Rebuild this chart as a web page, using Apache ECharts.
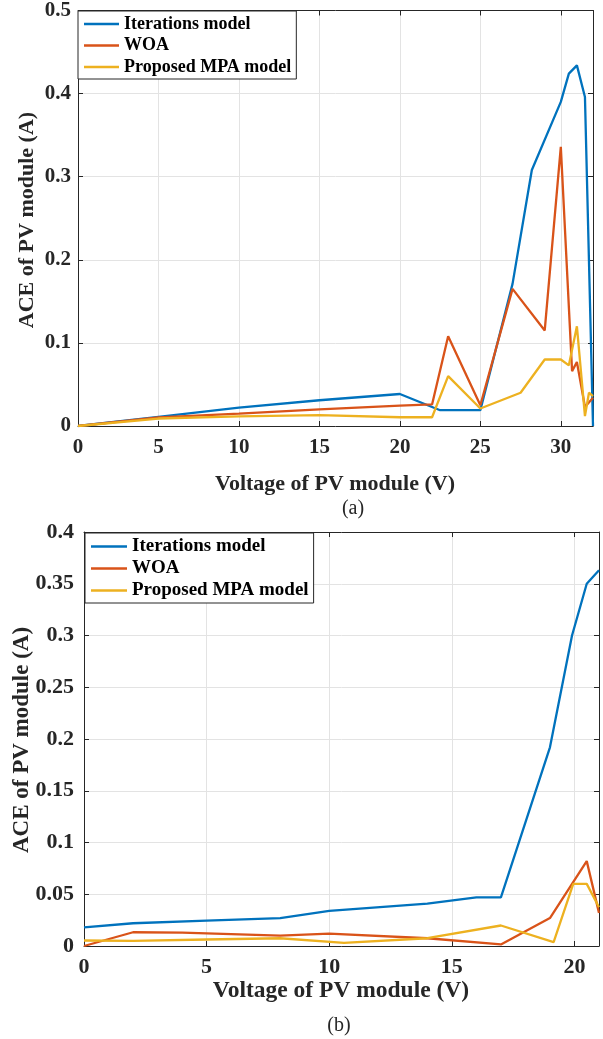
<!DOCTYPE html>
<html>
<head>
<meta charset="utf-8">
<script src="https://cdn.jsdelivr.net/npm/echarts@6/dist/echarts.min.js"></script>
<style>
html,body{margin:0;padding:0;background:#fff;}
#chart{width:603px;height:1039px;}
</style>
</head>
<body>
<div id="chart"></div>
<script>
// ---- data (a) ----
const seriesNames = ['Iterations model', 'WOA', 'Proposed MPA model'];
const topIterX = [0, 5, 10, 15, 20, 22.5, 25, 27, 28.2, 30, 30.5, 31, 31.5, 32];
const topIterY = [0, 0.011, 0.022, 0.031, 0.0385, 0.019, 0.019, 0.171, 0.308, 0.39, 0.424, 0.434, 0.396, 0];
const topWoaX = [0, 5, 10, 15, 20, 22, 23, 25, 27, 29, 30, 30.7, 31, 31.5, 32];
const topWoaY = [0, 0.0105, 0.015, 0.02, 0.0245, 0.026, 0.108, 0.025, 0.165, 0.115, 0.336, 0.066, 0.077, 0.023, 0.034];
const topMpaX = [0, 5, 10, 15, 20, 22, 23, 25, 27.5, 29, 30, 30.5, 31, 31.5, 31.75, 32];
const topMpaY = [0, 0.009, 0.0115, 0.013, 0.0105, 0.0105, 0.06, 0.021, 0.04, 0.08, 0.08, 0.073, 0.12, 0.012, 0.04, 0.036];
// ---- data (b) ----
const botIterX = [0, 2, 5, 8, 10, 14, 16, 17, 19, 19.9, 20.5, 21];
const botIterY = [0.018, 0.022, 0.0246, 0.027, 0.034, 0.041, 0.047, 0.047, 0.192, 0.30, 0.35, 0.363];
const botWoaX = [0, 2, 4, 8, 10, 14, 17, 19, 20.5, 21];
const botWoaY = [0, 0.0133, 0.013, 0.010, 0.012, 0.0075, 0.0015, 0.027, 0.082, 0.032];
const botMpaX = [0, 2, 5, 8, 10.6, 14, 17, 19.15, 19.95, 20.5, 21];
const botMpaY = [0.0053, 0.005, 0.0063, 0.0075, 0.003, 0.0075, 0.0198, 0.0037, 0.06, 0.06, 0.0375];
// ---- axis settings ----
const topXRange = [0, 32], topXStep = 5;
const topYRange = [0, 0.5], topYStep = 0.1;
const botXRange = [0, 21], botXStep = 5;
const botYRange = [0, 0.4], botYStep = 0.05;
const xTitle = 'Voltage of PV module (V)';
const yTitle = 'ACE of PV module (A)';
const captions = ['(a)', '(b)'];

const colors = ['#0072BD', '#D95319', '#EDB120'];
const FONT = '"Liberation Serif", "Times New Roman", serif';
const AX = '#262626';
const GRIDC = '#e3e3e3';

function pairs(xs, ys) { return xs.map((x, i) => [x, ys[i]]); }

function mainX(gi, r, step, fs, margin) {
  return {
    type: 'value', gridIndex: gi, position: 'bottom', min: r[0], max: r[1], interval: step,
    axisLine: { show: true, onZero: false, lineStyle: { color: AX, width: 1 } },
    axisTick: { show: true, inside: true, length: 5, lineStyle: { color: AX } },
    axisLabel: { show: true, showMaxLabel: false, margin: margin, fontFamily: FONT, fontWeight: 'bold', fontSize: fs, color: AX },
    splitLine: { show: true, lineStyle: { color: GRIDC, width: 1 } }
  };
}
function mirrorX(gi, r, step) {
  return {
    type: 'value', gridIndex: gi, position: 'top', min: r[0], max: r[1], interval: step,
    axisLine: { show: true, onZero: false, lineStyle: { color: AX, width: 1 } },
    axisTick: { show: true, inside: true, length: 5, lineStyle: { color: AX } },
    axisLabel: { show: false }, splitLine: { show: false }
  };
}
function mainY(gi, r, step, fs, margin) {
  return {
    type: 'value', gridIndex: gi, position: 'left', min: r[0], max: r[1], interval: step,
    axisLine: { show: true, onZero: false, lineStyle: { color: AX, width: 1 } },
    axisTick: { show: true, inside: true, length: 5, lineStyle: { color: AX } },
    axisLabel: { show: true, margin: margin, fontFamily: FONT, fontWeight: 'bold', fontSize: fs, color: AX },
    splitLine: { show: true, lineStyle: { color: GRIDC, width: 1 } }
  };
}
function mirrorY(gi, r, step) {
  return {
    type: 'value', gridIndex: gi, position: 'right', min: r[0], max: r[1], interval: step,
    axisLine: { show: true, onZero: false, lineStyle: { color: AX, width: 1 } },
    axisTick: { show: true, inside: true, length: 5, lineStyle: { color: AX } },
    axisLabel: { show: false }, splitLine: { show: false }
  };
}
function line(name, data, xi, yi, ci) {
  return {
    type: 'line', name: name, data: data, xAxisIndex: xi, yAxisIndex: yi,
    showSymbol: false, symbol: 'none', color: colors[ci],
    lineStyle: { width: 2.3, color: colors[ci] }, z: 2 + ci, clip: true, animation: false
  };
}
function legendBox(left, top, fs, lh, iw, gap) {
  return {
    show: true, orient: 'vertical', left: left, top: top, data: seriesNames,
    icon: 'rect', itemWidth: iw, itemHeight: 2.5, itemGap: gap,
    padding: [3, 5, 2, 6], borderColor: AX, borderWidth: 1, backgroundColor: '#fff',
    selectedMode: false,
    textStyle: { fontFamily: FONT, fontWeight: 'bold', fontSize: fs, lineHeight: lh, color: '#000' }
  };
}
function txt(text, x, y, fs, bold, rot) {
  return {
    type: 'text', x: x, y: y, rotation: rot || 0, z: 10,
    style: { text: text, fontFamily: FONT, fontWeight: bold ? 'bold' : 'normal', fontSize: fs, fill: AX, align: 'center', verticalAlign: 'middle' }
  };
}

const chart = echarts.init(document.getElementById('chart'), null, { renderer: 'canvas' });
chart.setOption({
  animation: false,
  backgroundColor: '#fff',
  grid: [
    { left: 78, top: 10, width: 515, height: 416, containLabel: false },
    { left: 84, top: 532, width: 515, height: 414, containLabel: false }
  ],
  xAxis: [
    mainX(0, topXRange, topXStep, 21, 11), mirrorX(0, topXRange, topXStep),
    mainX(1, botXRange, botXStep, 22, 10), mirrorX(1, botXRange, botXStep)
  ],
  yAxis: [
    mainY(0, topYRange, topYStep, 21, 7), mirrorY(0, topYRange, topYStep),
    mainY(1, botYRange, botYStep, 22, 10), mirrorY(1, botYRange, botYStep)
  ],
  legend: [
    legendBox(78, 11, 18, 20, 35, 1.5),
    legendBox(85, 533, 19, 21, 36, 1)
  ],
  series: [
    line(seriesNames[0], pairs(topIterX, topIterY), 0, 0, 0),
    line(seriesNames[1], pairs(topWoaX, topWoaY), 0, 0, 1),
    line(seriesNames[2], pairs(topMpaX, topMpaY), 0, 0, 2),
    line(seriesNames[0], pairs(botIterX, botIterY), 2, 2, 0),
    line(seriesNames[1], pairs(botWoaX, botWoaY), 2, 2, 1),
    line(seriesNames[2], pairs(botMpaX, botMpaY), 2, 2, 2)
  ],
  graphic: [
    txt(xTitle, 335, 484, 22, true),
    txt(captions[0], 353, 509, 20, false),
    txt(yTitle, 27, 220, 22, true, Math.PI / 2),
    txt(xTitle, 341, 991, 23.5, true),
    txt(captions[1], 339, 1026, 20, false),
    txt(yTitle, 22, 740, 23, true, Math.PI / 2)
  ]
});
</script>
</body>
</html>
